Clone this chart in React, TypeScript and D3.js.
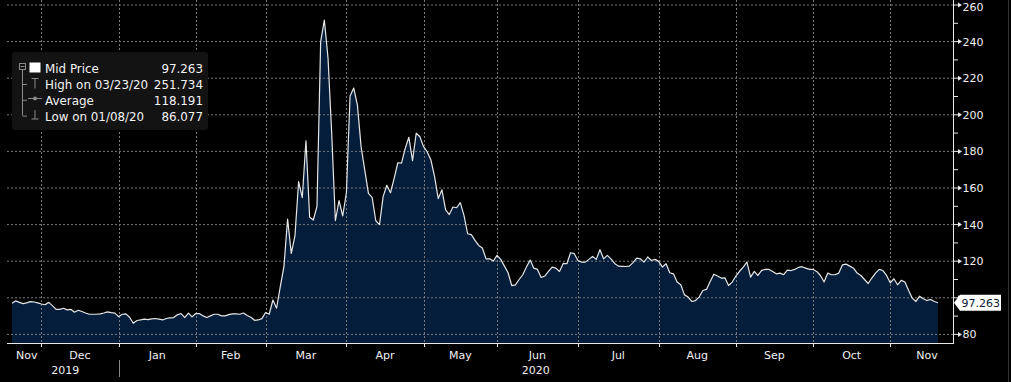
import React from "react";
import * as d3 from "d3";

// ---- Data ----
const midPrice: number[] = [
  97.0, 98.3, 97.5, 96.8, 97.2, 97.9, 97.7, 97.2, 96.6, 96.2,
  97.5, 95.7, 93.7, 93.7, 94.3, 93.4, 93.7, 92.1, 93.2, 92.5,
  91.7, 91.0, 91.0, 91.0, 91.2, 91.7, 92.3, 91.9, 91.6, 89.7,
  91.0, 91.2, 89.4, 86.077, 87.6, 87.9, 88.3, 88.1, 88.5, 88.7,
  88.3, 87.9, 88.7, 89.0, 89.2, 90.7, 91.4, 89.2, 91.6, 89.6,
  91.4, 91.4, 90.1, 89.2, 90.1, 91.0, 91.0, 90.1, 90.1, 90.8,
  91.2, 91.2, 91.0, 91.7, 90.3, 89.4, 87.7, 87.9, 88.6, 92.0,
  91.0, 98.8, 94.3, 106.0, 117.0, 143.0, 124.3, 133.8, 163.5, 154.7,
  185.8, 144.0, 142.5, 150.0, 240.0, 251.734, 231.0, 190.0, 142.1, 153.1,
  144.7, 157.4, 210.3, 214.6, 205.3, 182.6, 169.8, 157.1, 154.9, 142.1,
  140.0, 155.3, 161.5, 157.4, 165.3, 173.8, 173.6, 181.5, 187.7, 175.0,
  189.9, 188.0, 182.6, 179.7, 175.3, 166.2, 154.2, 159.0, 148.0, 145.5,
  149.6, 149.2, 152.0, 145.0, 135.0, 134.5, 131.4, 128.6, 127.2, 121.3,
  121.3, 120.1, 123.2, 121.0, 117.3, 113.7, 106.7, 107.1, 110.0, 112.6,
  116.8, 120.6, 116.2, 115.5, 111.1, 111.9, 114.4, 116.8, 116.2, 114.4,
  118.8, 118.6, 124.6, 124.1, 120.4, 119.5, 119.5, 121.0, 122.6, 121.0,
  126.3, 121.3, 123.2, 121.3, 118.8, 117.3, 117.2, 117.1, 117.3, 119.2,
  121.7, 121.3, 119.5, 122.3, 120.4, 121.0, 119.9, 116.8, 118.6, 113.7,
  113.1, 108.6, 107.1, 101.6, 100.4, 98.0, 98.5, 100.4, 104.0, 104.6,
  108.9, 112.9, 111.9, 110.8, 110.9, 106.7, 108.6, 111.9, 114.5, 116.8,
  119.5, 111.3, 114.4, 112.2, 115.0, 115.5, 115.5, 114.4, 113.1, 113.5,
  112.6, 115.1, 114.9, 115.5, 116.6, 117.0, 116.2, 115.5, 115.5, 114.4,
  112.2, 108.6, 113.5, 112.6, 112.6, 113.5, 118.0, 118.4, 117.3, 116.2,
  113.5, 112.2, 110.0, 107.8, 110.8, 113.5, 115.5, 114.9, 112.2, 108.2,
  110.4, 107.1, 109.5, 108.6, 104.0, 99.8, 98.0, 100.9, 99.5, 98.5,
  99.1, 98.0, 97.263,
];

const monthNames = ["Nov", "Dec", "Jan", "Feb", "Mar", "Apr", "May", "Jun", "Jul", "Aug", "Sep", "Oct", "Nov"];
const monthStartIdx = [0, 8, 29, 50, 69, 91, 112, 132, 154, 176, 197, 218, 239];
const lastMonthEndIdx = 259;
const yearNames = ["2019", "2020"];
const yearStartIdx = [0, 29];

const yMajorTicks = [80, 100, 120, 140, 160, 180, 200, 220, 240, 260];
const yMinorTicks = [90, 110, 130, 150, 170, 190, 210, 230, 250];

const legendLabels = ["Mid Price", "High on 03/23/20", "Average", "Low on 01/08/20"];
const legendValues = ["97.263", "251.734", "118.191", "86.077"];
const lastValue = 97.263;

// ---- Layout ----
const W = 1011;
const H = 382;
const axisX = 953;
const axisY = 343;
const gridLeft = 7;

export default function App() {
  const x = d3.scaleLinear().domain([0, midPrice.length - 1]).range([12, 938]);
  const y = d3.scaleLinear().domain([80, 260]).range([334.4, 5]);

  const area = d3
    .area<number>()
    .x((_, i) => x(i))
    .y0(axisY)
    .y1((d) => y(d));
  const line = d3
    .line<number>()
    .x((_, i) => x(i))
    .y((d) => y(d));

  const tickIdx = monthStartIdx.slice(1);
  const monthCenters = monthStartIdx.map((s, k) => {
    const e = k < monthStartIdx.length - 1 ? monthStartIdx[k + 1] : lastMonthEndIdx;
    return (x(s) + x(e)) / 2;
  });
  const yearCenters = yearStartIdx.map((s, k) => {
    const e = k < yearStartIdx.length - 1 ? x(yearStartIdx[k + 1]) : axisX;
    return (x(s) + e) / 2;
  });

  const gridColor = "#7a7a7a";
  const font = "'DejaVu Sans', Verdana, sans-serif";
  const lastY = y(lastValue);
  const rowY = [73, 89, 104.8, 120.6];

  return (
    <div style={{ position: "fixed", left: 0, top: 0, width: W, height: H, background: "#000" }}>
      <svg width={W} height={H} style={{ display: "block" }}>
        <rect x={0} y={0} width={W} height={H} fill="#000" />
        {/* area + line */}
        <path d={area(midPrice) || ""} fill="#041d3a" />
        {/* gridlines */}
        {yMajorTicks.map((t) => (
          <line key={"hg" + t} x1={gridLeft} x2={axisX} y1={y(t)} y2={y(t)} stroke={gridColor} strokeWidth={1} strokeDasharray="2,2" />
        ))}
        {tickIdx.map((i) => (
          <line key={"vg" + i} x1={Math.round(x(i)) + 0.5} x2={Math.round(x(i)) + 0.5} y1={0} y2={axisY} stroke={gridColor} strokeWidth={1} strokeDasharray="2,2" />
        ))}
        <path d={line(midPrice) || ""} fill="none" stroke="#e6e6e6" strokeWidth={1.2} strokeLinejoin="round" />

        {/* axes */}
        <line x1={gridLeft} x2={axisX} y1={axisY + 0.5} y2={axisY + 0.5} stroke="#e8e8e8" strokeWidth={1} />
        <line x1={axisX + 0.5} x2={axisX + 0.5} y1={0} y2={axisY + 1} stroke="#e8e8e8" strokeWidth={1} />
        <line x1={1008.5} x2={1008.5} y1={0} y2={H} stroke="#333" strokeWidth={1} />

        {/* x ticks */}
        {tickIdx.map((i) => (
          <line key={"xt" + i} x1={Math.round(x(i)) + 0.5} x2={Math.round(x(i)) + 0.5} y1={axisY} y2={axisY + 4} stroke="#e8e8e8" strokeWidth={1} />
        ))}
        {monthNames.map((m, k) => (
          <text key={"ml" + k} x={monthCenters[k]} y={358.5} fill="#f0f0f0" fontSize={11} fontFamily={font} textAnchor="middle">
            {m}
          </text>
        ))}
        {yearNames.map((yr, k) => (
          <text key={"yl" + k} x={yearCenters[k]} y={374} fill="#f0f0f0" fontSize={11} fontFamily={font} textAnchor="middle">
            {yr}
          </text>
        ))}
        {yearStartIdx.slice(1).map((i) => (
          <line key={"ys" + i} x1={Math.round(x(i)) + 0.5} x2={Math.round(x(i)) + 0.5} y1={360} y2={377} stroke="#8a8a8a" strokeWidth={1} />
        ))}

        {/* y ticks */}
        {yMinorTicks.map((t) => (
          <line key={"mt" + t} x1={axisX} x2={axisX + 5} y1={y(t)} y2={y(t)} stroke="#e8e8e8" strokeWidth={1} />
        ))}
        {yMajorTicks.map((t) => (
          <g key={"yt" + t}>
            <line x1={axisX} x2={axisX + 5} y1={y(t)} y2={y(t)} stroke="#e8e8e8" strokeWidth={1} />
            <path d={`M${axisX + 5},${y(t) - 2.5}L${axisX + 9},${y(t)}L${axisX + 5},${y(t) + 2.5}Z`} fill="#e8e8e8" />
            {Math.abs(y(t) - lastY) > 12 && (
              <text x={962.5} y={Math.max(y(t), 7)} dy="0.36em" fill="#f0f0f0" fontSize={11} fontFamily={font}>
                {t}
              </text>
            )}
          </g>
        ))}

        {/* last value label */}
        <path
          d={`M${axisX + 1},${lastY}L${axisX + 7},${lastY - 8}L1001,${lastY - 8}L1001,${lastY + 8}L${axisX + 7},${lastY + 8}Z`}
          fill="#ffffff"
        />
        <text x={961.5} y={lastY} dy="0.36em" fill="#0b1a30" fontSize={11} fontFamily={font}>
          {lastValue.toFixed(3)}
        </text>

        {/* legend */}
        <rect x={12} y={52} width={196} height={78} rx={3} fill="#131313" />
        <rect x={19.5} y={63.5} width={6} height={6} fill="none" stroke="#8a8a8a" strokeWidth={1} />
        <line x1={20.5} x2={24.5} y1={66.5} y2={66.5} stroke="#8a8a8a" strokeWidth={1} />
        <line x1={22.5} x2={22.5} y1={69.5} y2={115.5} stroke="#8a8a8a" strokeWidth={1} />
        {[rowY[1], rowY[2], rowY[3]].map((ry, k) => (
          <line key={"br" + k} x1={22.5} x2={27} y1={ry - 4.5} y2={ry - 4.5} stroke="#8a8a8a" strokeWidth={1} />
        ))}
        <rect x={29.5} y={62.5} width={11} height={10} fill="#ffffff" />
        {/* high icon */}
        <line x1={31.5} x2={38.5} y1={78.5} y2={78.5} stroke="#8a8a8a" strokeWidth={1} />
        <line x1={35} x2={35} y1={78.5} y2={88.5} stroke="#8a8a8a" strokeWidth={1} />
        {/* avg icon */}
        <line x1={28} x2={42} y1={98.5} y2={98.5} stroke="#8a8a8a" strokeWidth={1} />
        <circle cx={35} cy={98.5} r={2} fill="#8a8a8a" />
        {/* low icon */}
        <line x1={35} x2={35} y1={110} y2={119} stroke="#8a8a8a" strokeWidth={1} />
        <line x1={31.5} x2={38.5} y1={119} y2={119} stroke="#8a8a8a" strokeWidth={1} />
        {legendLabels.map((l, k) => (
          <g key={"lg" + k}>
            <text x={45} y={rowY[k]} fill="#f2f2f2" fontSize={11.9} fontFamily={font}>
              {l}
            </text>
            <text x={203} y={rowY[k]} fill="#f2f2f2" fontSize={11.9} fontFamily={font} textAnchor="end">
              {legendValues[k]}
            </text>
          </g>
        ))}
      </svg>
    </div>
  );
}
